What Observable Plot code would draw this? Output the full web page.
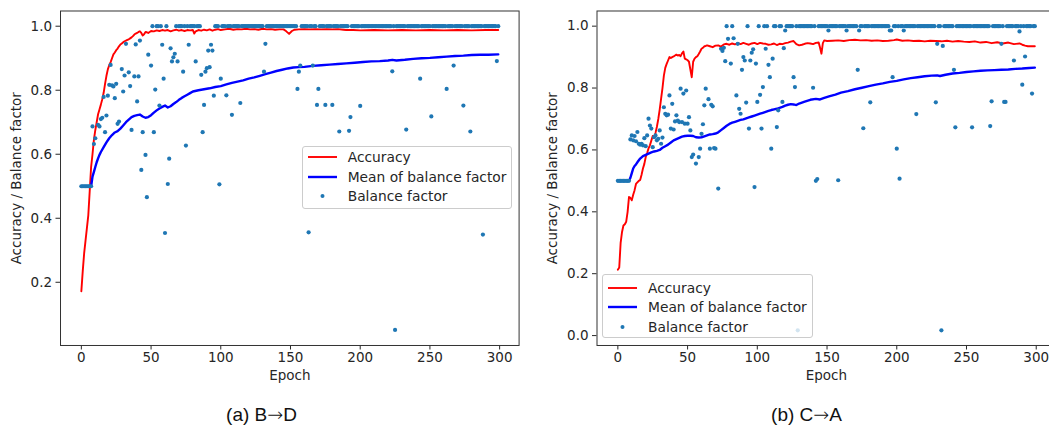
<!DOCTYPE html>
<html>
<head>
<meta charset="utf-8">
<script src="https://cdn.jsdelivr.net/npm/d3@7"></script>
<script src="https://cdn.jsdelivr.net/npm/@observablehq/plot@0.6"></script>
<style>
  html, body { margin: 0; padding: 0; background: #fff; overflow: hidden; }
  #page { position: relative; width: 1049px; height: 428px; overflow: hidden; font-family: "DejaVu Sans", sans-serif; }
  .panel { position: absolute; top: 0; }
  .legend { position: absolute; box-sizing: border-box; border: 1px solid #cccccc; border-radius: 3px;
            background: rgba(255,255,255,0.8); font-size: 13.8px; color: #262626; }
  .legend svg { position: absolute; left: 0; }
  .legend span { position: absolute; left: 45px; line-height: 16px; white-space: nowrap; }
  .caption { position: absolute; font-family: "Liberation Sans", Arial, sans-serif; font-size: 19px; line-height: 19px;
             color: #111; white-space: nowrap; transform: translateX(-50%); }
  .caption .arrow { font-family: "DejaVu Sans", sans-serif; font-weight: 200; }
</style>
</head>
<body>
<div id="page"></div>
<script>
// Shared axis ticks
const xTicks = [0, 50, 100, 150, 200, 250, 300];
const yTicksBD = [0.2, 0.4, 0.6, 0.8, 1.0];
const yTicksCA = [0.0, 0.2, 0.4, 0.6, 0.8, 1.0];

// (a) B→D — accuracy per epoch [epoch, value]
const accuracyBD = [
  [0,0.172],[1,0.235],[2,0.29],[3,0.33],[4,0.37],[5,0.41],[6,0.485],[7,0.56],[8,0.60],[9,0.645],
  [10,0.675],[11,0.70],[12,0.725],[13,0.74],[14,0.755],[15,0.772],[16,0.792],[17,0.82],[18,0.845],[19,0.865],
  [20,0.878],[21,0.888],[22,0.90],[23,0.912],[24,0.918],[25,0.925],[26,0.93],[27,0.937],[28,0.943],[29,0.946],
  [30,0.95],[31,0.953],[32,0.955],[33,0.957],[34,0.959],[35,0.962],[36,0.965],[37,0.969],[38,0.974],[39,0.977],
  [40,0.979],[41,0.982],[42,0.984],[43,0.979],[44,0.971],[45,0.975],[46,0.982],[47,0.981],[48,0.979],[50,0.985],
  [52,0.984],[54,0.987],[56,0.985],[58,0.988],[60,0.986],[62,0.988],[64,0.984],[66,0.987],[68,0.989],[70,0.986],
  [72,0.988],[74,0.985],[76,0.988],[78,0.987],[80,0.988],[81,0.977],[82,0.984],[84,0.988],[86,0.986],[88,0.989],
  [90,0.987],[92,0.99],[94,0.986],[96,0.989],[98,0.991],[100,0.988],[103,0.99],[106,0.992],[109,0.989],[112,0.991],
  [115,0.99],[118,0.992],[121,0.99],[124,0.991],[127,0.989],[130,0.992],[133,0.99],[136,0.991],[139,0.989],[142,0.99],
  [145,0.99],[147,0.984],[149,0.976],[151,0.985],[153,0.989],[156,0.99],[160,0.991],[164,0.99],[168,0.991],[172,0.99],
  [176,0.991],[180,0.99],[184,0.991],[188,0.989],[190,0.988],[195,0.988],[200,0.987],[210,0.988],[220,0.987],[230,0.988],
  [240,0.987],[250,0.988],[260,0.987],[270,0.988],[280,0.987],[290,0.988],[299,0.988]
];

// (a) B→D — running mean of the balance factor [epoch, value]
const meanBD = [
  [0,0.5],[7,0.5],[8,0.53],[9,0.545],[10,0.56],[11,0.575],[12,0.587],[13,0.598],[14,0.607],[16,0.622],
  [18,0.637],[20,0.65],[22,0.66],[24,0.668],[26,0.672],[28,0.68],[30,0.69],[32,0.7],[34,0.708],[36,0.716],
  [38,0.72],[40,0.722],[42,0.724],[44,0.718],[46,0.714],[48,0.716],[50,0.722],[52,0.73],[54,0.737],[56,0.743],
  [58,0.748],[60,0.752],[62,0.746],[64,0.75],[66,0.757],[68,0.763],[70,0.77],[72,0.776],[74,0.781],[76,0.786],
  [78,0.791],[80,0.796],[84,0.8],[88,0.803],[92,0.806],[96,0.81],[100,0.813],[104,0.818],[108,0.823],[112,0.827],
  [116,0.831],[120,0.836],[124,0.84],[128,0.845],[132,0.85],[136,0.855],[140,0.86],[144,0.864],[148,0.868],[152,0.871],
  [156,0.872],[160,0.873],[166,0.876],[172,0.878],[178,0.88],[184,0.882],[190,0.884],[196,0.886],[202,0.888],[208,0.89],
  [214,0.891],[220,0.893],[223,0.895],[226,0.893],[232,0.895],[238,0.898],[244,0.9],[250,0.901],[256,0.903],[262,0.905],
  [268,0.907],[274,0.908],[280,0.91],[286,0.911],[292,0.911],[299,0.912]
];

// (a) B→D — balance factor, one entry per epoch 0..299 (null: no reading)
const balanceBD = [
  0.5,0.5,0.5,0.5,0.5,0.5,0.5,0.5,0.687,0.632,          // 0-9
  0.65,null,0.692,0.687,0.71,0.714,0.779,0.669,0.721,0.783, // 10-19
  0.817,0.879,0.815,0.812,0.775,0.82,0.695,0.702,null,0.866, // 20-29
  0.796,0.846,0.945,null,0.856,0.813,0.676,null,0.843,0.943, // 30-39
  0.765,0.843,0.955,0.551,0.669,null,0.598,0.466,0.911,null, // 40-49
  0.877,1,0.669,0.802,1,1,0.752,1,0.942,0.836,           // 50-59
  0.354,1,0.507,0.586,0.931,0.89,0.903,0.914,1,0.89,      // 60-69
  1,1,1,0.858,1,0.627,1,0.942,1,1,                       // 70-79
  1,1,0.89,1,1,1,0.848,0.669,0.754,0.858,                // 80-89
  0.869,0.924,0.872,0.942,0.924,0.783,1,1,1,0.506,        // 90-99
  0.836,1,1,1,0.784,1,1,1,0.723,1,                       // 100-109
  1,1,1,1,0.76,1,1,1,1,1,                                // 110-119
  1,1,1,1,1,1,1,1,1,1,                                   // 120-129
  1,0.858,0.945,1,1,1,1,1,1,1,                           // 130-139
  1,1,1,1,1,1,1,1,1,1,                                   // 140-149
  1,1,1,1,1,0.804,0.858,0.877,1,1,                       // 150-159
  1,1,1,0.356,1,1,0.877,1,1,0.754,                       // 160-169
  0.804,1,1,1,1,0.754,1,1,1,1,                           // 170-179
  0.754,1,1,1,1,0.671,1,1,1,1,                           // 180-189
  1,1,0.673,0.716,1,1,1,1,1,1,                           // 190-199
  0.751,1,1,1,1,1,1,1,1,1,                               // 200-209
  1,1,1,1,1,1,1,1,1,1,                                   // 210-219
  1,1,1,0.859,1,0.051,1,1,1,1,                           // 220-229
  1,1,1,0.677,1,1,1,1,1,1,                               // 230-239
  1,1,1,0.836,1,1,1,1,1,1,                               // 240-249
  1,0.718,1,1,1,1,1,1,1,1,                               // 250-259
  1,1,0.804,1,1,1,1,0.877,1,1,                           // 260-269
  1,1,1,1,0.752,1,1,1,1,0.671,                           // 270-279
  1,1,1,1,1,1,1,1,0.349,1,                               // 280-289
  1,1,1,1,1,1,1,1,0.891,1                                // 290-299
];

// (b) C→A — accuracy per epoch [epoch, value]
const accuracyCA = [
  [0,0.213],[1,0.22],[2,0.3],[3,0.335],[4,0.356],[5,0.36],[6,0.368],[7,0.4],[8,0.448],[9,0.445],
  [10,0.437],[11,0.455],[12,0.47],[13,0.49],[14,0.495],[15,0.5],[16,0.503],[17,0.52],[18,0.54],[19,0.555],
  [20,0.577],[21,0.59],[22,0.605],[23,0.615],[24,0.63],[25,0.645],[26,0.64],[27,0.655],[28,0.675],[29,0.70],
  [30,0.73],[31,0.765],[32,0.80],[33,0.84],[34,0.865],[35,0.878],[36,0.889],[37,0.9],[38,0.897],[39,0.9],
  [40,0.902],[41,0.905],[42,0.908],[43,0.905],[44,0.907],[45,0.903],[46,0.912],[47,0.918],[48,0.895],[49,0.893],
  [50,0.89],[51,0.885],[52,0.86],[53,0.835],[54,0.885],[55,0.895],[56,0.9],[57,0.903],[58,0.91],[59,0.918],
  [60,0.927],[61,0.93],[62,0.935],[63,0.936],[64,0.938],[66,0.935],[68,0.932],[70,0.937],[72,0.938],[74,0.934],
  [76,0.941],[78,0.943],[80,0.94],[82,0.944],[84,0.941],[86,0.945],[88,0.942],[90,0.946],[92,0.943],[94,0.94],
  [96,0.944],[98,0.946],[100,0.942],[102,0.946],[104,0.944],[106,0.943],[108,0.94],[110,0.941],[112,0.944],[114,0.939],
  [116,0.943],[118,0.942],[120,0.945],[122,0.947],[124,0.95],[126,0.952],[128,0.942],[130,0.938],[132,0.94],[134,0.943],
  [136,0.945],[138,0.944],[140,0.942],[142,0.946],[144,0.947],[145,0.93],[146,0.911],[147,0.945],[148,0.954],[150,0.952],
  [154,0.953],[158,0.954],[162,0.952],[166,0.955],[170,0.956],[174,0.954],[178,0.955],[182,0.953],[186,0.954],[190,0.952],
  [194,0.953],[198,0.955],[200,0.957],[204,0.953],[208,0.954],[212,0.952],[216,0.953],[220,0.951],[224,0.953],[228,0.952],
  [232,0.951],[236,0.953],[240,0.95],[244,0.952],[248,0.95],[252,0.949],[256,0.951],[260,0.947],[264,0.949],[268,0.945],
  [272,0.948],[276,0.944],[280,0.947],[284,0.942],[288,0.944],[290,0.94],[292,0.937],[294,0.935],[296,0.935],[299,0.935]
];

// (b) C→A — running mean of the balance factor [epoch, value]
const meanCA = [
  [0,0.5],[8,0.5],[9,0.51],[10,0.525],[11,0.54],[12,0.548],[13,0.553],[14,0.56],[16,0.572],[18,0.58],
  [20,0.584],[22,0.588],[24,0.592],[26,0.595],[28,0.597],[30,0.6],[32,0.607],[34,0.612],[36,0.617],[38,0.624],
  [40,0.631],[42,0.635],[44,0.639],[46,0.643],[48,0.645],[50,0.646],[52,0.646],[54,0.645],[56,0.641],[58,0.64],
  [60,0.641],[62,0.644],[64,0.647],[66,0.65],[68,0.651],[70,0.653],[72,0.657],[74,0.664],[76,0.671],[78,0.678],
  [80,0.684],[82,0.688],[84,0.691],[86,0.694],[88,0.697],[90,0.699],[92,0.702],[94,0.705],[96,0.708],[98,0.711],
  [100,0.714],[102,0.717],[104,0.72],[106,0.723],[108,0.726],[110,0.729],[112,0.731],[114,0.733],[116,0.736],[118,0.739],
  [120,0.743],[122,0.746],[124,0.748],[126,0.747],[128,0.745],[130,0.75],[134,0.756],[138,0.762],[142,0.765],[145,0.763],
  [148,0.768],[152,0.774],[156,0.779],[160,0.785],[165,0.79],[170,0.796],[175,0.801],[180,0.806],[185,0.811],[190,0.815],
  [195,0.82],[200,0.823],[205,0.828],[210,0.832],[215,0.835],[220,0.838],[225,0.84],[229,0.841],[231,0.839],[235,0.843],
  [240,0.847],[245,0.849],[250,0.852],[255,0.854],[260,0.856],[265,0.857],[270,0.858],[275,0.859],[280,0.86],[285,0.862],
  [290,0.863],[295,0.865],[299,0.866]
];

// (b) C→A — balance factor, one entry per epoch 0..299 (null: no reading)
const balanceCA = [
  0.5,0.5,0.5,0.5,0.5,0.5,0.5,0.5,0.5,0.634,             // 0-9
  0.647,0.631,0.645,0.628,0.658,0.62,0.617,0.62,0.615,0.638, // 10-19
  0.612,0.647,0.701,0.679,0.669,0.609,0.641,0.647,0.631,0.636, // 20-29
  0.663,0.62,0.64,0.738,0.717,0.712,0.714,0.776,0.669,0.749, // 30-39
  0.666,0.692,0.712,0.695,0.69,0.798,0.69,0.782,0.685,0.792, // 40-49
  0.685,0.706,0.663,0.577,0.585,null,0.556,null,0.577,0.604, // 50-59
  0.652,0.683,0.744,0.798,null,0.764,0.604,0.746,0.741,0.606, // 60-69
  0.604,null,0.475,null,0.927,0.92,0.93,0.887,1,0.959,    // 70-79
  null,0.879,1,0.961,null,0.776,0.943,0.733,0.717,0.859,  // 80-89
  0.9,0.889,0.753,1,0.669,0.889,0.914,0.925,0.48,0.879,   // 90-99
  0.755,1,0.778,0.669,0.803,1,0.927,1,0.875,0.835,        // 100-109
  0.604,0.895,1,1,0.674,0.728,1,1,0.755,0.929,            // 110-119
  0.986,1,1,1,1,1,0.835,0.803,1,0.017,                    // 120-129
  1,1,1,1,1,1,1,1,1,1,                                    // 130-139
  0.801,1,0.5,0.506,1,1,1,1,1,1,                          // 140-149
  1,0.986,1,1,1,1,1,1,0.502,1,                            // 150-159
  1,1,1,1,0.986,1,1,1,1,1,                                // 160-169
  1,1,0.859,0.986,1,1,0.67,1,1,1,                         // 170-179
  1,0.754,1,1,1,1,1,1,1,1,                                // 180-189
  1,1,1,1,1,0.986,0.986,0.835,1,1,                        // 190-199
  0.604,1,0.507,1,1,0.986,1,1,1,1,                        // 200-209
  1,1,1,1,0.716,1,1,1,1,1,                                // 210-219
  1,1,1,1,1,1,1,1,0.754,0.943,                            // 220-229
  1,1,0.017,0.936,1,1,1,1,1,1,                            // 230-239
  1,0.859,0.673,1,1,1,1,1,1,1,                            // 240-249
  1,1,1,1,0.673,1,1,1,1,1,                                // 250-259
  1,1,1,1,1,1,1,0.677,0.757,1,                            // 260-269
  1,1,1,1,1,0.943,1,0.755,0.755,1,                        // 270-279
  1,1,1,1,0.889,1,1,1,0.983,1,                            // 280-289
  0.811,1,0.902,1,1,1,1,0.782,1,1                         // 290-299
];

const legendItems = ["Accuracy", "Mean of balance factor", "Balance factor"];

const RED = "#ff0000", BLUE = "#0000ff", DOT = "#1f77b4";
const page = document.getElementById("page");

function panel({acc, mean, balance, yDomain, yTicks, left, marginLeft, width}) {
  const points = balance
    .map((value, epoch) => ({epoch, value}))
    .filter(d => d.value !== null);
  const chart = Plot.plot({
    width, height: 390,
    marginLeft, marginRight: 10, marginTop: 10.5, marginBottom: 45,
    x: {domain: [-14.95, 313.95], label: null},
    y: {domain: yDomain, label: null},
    style: {fontFamily: "DejaVu Sans, sans-serif", fontSize: "13.5px", color: "#262626",
            background: "transparent", maxWidth: "none", overflow: "visible"},
    marks: [
      Plot.axisX(xTicks, {tickSize: 4.5, tickPadding: 2.5, tickFormat: d => String(d), label: null, color: "#262626"}),
      Plot.axisY(yTicks, {tickSize: 4.5, tickPadding: 4, tickFormat: d3.format(".1f"), label: null, color: "#262626"}),
      Plot.line(acc, {x: d => d[0], y: d => d[1], stroke: RED, strokeWidth: 1.9}),
      Plot.line(mean, {x: d => d[0], y: d => d[1], stroke: BLUE, strokeWidth: 2.4}),
      Plot.dot(points, {x: "epoch", y: "value", r: 2.1, fill: DOT, stroke: "none"}),
      Plot.frame({stroke: "#333", strokeWidth: 1}),
      Plot.text(["Epoch"], {frameAnchor: "bottom", dy: 30, lineAnchor: "middle", fill: "#262626"}),
      Plot.text(["Accuracy / Balance factor"], {frameAnchor: "left", dx: -44, rotate: -90,
                textAnchor: "middle", lineAnchor: "middle", fill: "#262626"})
    ]
  });
  const wrap = document.createElement("div");
  wrap.className = "panel";
  wrap.style.left = left + "px";
  wrap.style.width = width + "px";
  wrap.appendChild(chart);
  page.appendChild(wrap);
}

function legend({left, top, width, height, rows}) {
  const box = document.createElement("div");
  box.className = "legend";
  Object.assign(box.style, {left: left + "px", top: top + "px", width: width + "px", height: height + "px"});
  legendItems.forEach((label, i) => {
    const y = rows[i];
    const svg = d3.create("svg").attr("width", 44).attr("height", 12).style("top", (y - 6) + "px");
    if (i < 2) {
      svg.append("line").attr("x1", 5).attr("x2", 34).attr("y1", 6).attr("y2", 6)
        .attr("stroke", i === 0 ? RED : BLUE).attr("stroke-width", i === 0 ? 1.9 : 2.4);
    } else {
      svg.append("circle").attr("cx", 19.5).attr("cy", 6).attr("r", 2).attr("fill", DOT);
    }
    box.appendChild(svg.node());
    const span = document.createElement("span");
    span.textContent = label;
    span.style.top = (y - 8) + "px";
    box.appendChild(span);
  });
  page.appendChild(box);
}

function caption(prefix, from, to, cx) {
  const c = document.createElement("div");
  c.className = "caption";
  c.style.left = cx + "px";
  c.style.top = "404.6px";
  c.append(`${prefix} ${from}`);
  const arrow = document.createElement("span");
  arrow.className = "arrow";
  arrow.textContent = "\u2192";
  c.append(arrow, to);
  page.appendChild(c);
}

panel({acc: accuracyBD, mean: meanBD, balance: balanceBD, yDomain: [0.0025, 1.0475], yTicks: yTicksBD,
       left: 0, marginLeft: 60, width: 528.6});
panel({acc: accuracyCA, mean: meanCA, balance: balanceCA, yDomain: [-0.032, 1.049], yTicks: yTicksCA,
       left: 536, marginLeft: 60.5, width: 529.2});

legend({left: 301.7, top: 145.5, width: 210.5, height: 63, rows: [10.5, 30, 49.5]});
legend({left: 602, top: 274, width: 211, height: 64, rows: [12.5, 32, 51.5]});

caption("(a)", "B", "D", 261.5);
caption("(b)", "C", "A", 806.5);
</script>
</body>
</html>
